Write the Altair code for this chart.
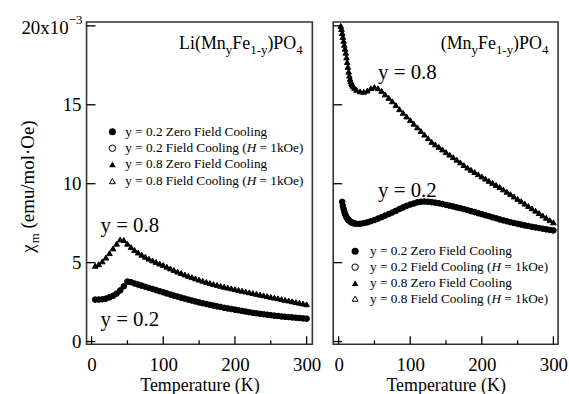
import altair as alt
import pandas as pd

FONT = "Liberation Serif"
INK = "black"

# ---------------- data (chi in units of 1e-3 emu/mol·Oe) ----------------
T_LEFT = [5, 10, 15, 20, 25, 30, 35, 40, 45, 50, 55, 60, 65, 70, 75, 80, 85, 90, 95, 100,
          105, 110, 115, 120, 125, 130, 135, 140, 145, 150, 155, 160, 165, 170, 175, 180, 185, 190, 195, 200,
          205, 210, 215, 220, 225, 230, 235, 240, 245, 250, 255, 260, 265, 270, 275, 280, 285, 290, 295, 300]

CHI_L_Y02_ZFC = [2.66, 2.66, 2.68, 2.72, 2.80, 2.90, 3.04, 3.24, 3.50, 3.80,
                 3.76, 3.68, 3.61, 3.54, 3.47, 3.40, 3.33, 3.26, 3.19, 3.12,
                 3.05, 2.98, 2.91, 2.85, 2.78, 2.72, 2.66, 2.60, 2.54, 2.48,
                 2.43, 2.38, 2.33, 2.28, 2.23, 2.19, 2.14, 2.10, 2.06, 2.02,
                 1.98, 1.94, 1.90, 1.86, 1.82, 1.79, 1.76, 1.73, 1.70, 1.67,
                 1.64, 1.62, 1.59, 1.57, 1.55, 1.53, 1.51, 1.49, 1.47, 1.45]
CHI_L_Y02_FC = CHI_L_Y02_ZFC  # FC and ZFC coincide

CHI_L_Y08_ZFC = [4.80, 4.90, 5.08, 5.32, 5.60, 5.90, 6.20, 6.47, 6.43, 6.20,
                 5.98, 5.80, 5.64, 5.50, 5.37, 5.25, 5.14, 5.04, 4.94, 4.85,
                 4.74, 4.63, 4.53, 4.43, 4.34, 4.25, 4.16, 4.08, 4.00, 3.92,
                 3.85, 3.78, 3.71, 3.65, 3.59, 3.53, 3.47, 3.42, 3.37, 3.32,
                 3.27, 3.22, 3.17, 3.12, 3.07, 3.02, 2.97, 2.93, 2.88, 2.83,
                 2.78, 2.74, 2.69, 2.64, 2.60, 2.55, 2.50, 2.46, 2.41, 2.36]
CHI_L_Y08_FC = CHI_L_Y08_ZFC

T_R_Y08 = [3, 4, 5, 6, 7, 8, 9, 10, 11, 12, 13, 14, 15, 16, 17, 18, 19, 20, 22, 25,
           30, 35, 40, 45, 50, 55, 60, 65, 70, 75, 80, 85, 90, 95, 100,
           105, 110, 115, 120, 125, 130, 135, 140, 145, 150, 155, 160, 165, 170, 175, 180, 185, 190, 195, 200,
           205, 210, 215, 220, 225, 230, 235, 240, 245, 250, 255, 260, 265, 270, 275, 280, 285, 290, 295, 300]
CHI_R_Y08_ZFC = [20.0, 19.8, 19.55, 19.3, 19.05, 18.8, 18.55, 18.3, 18.0, 17.7, 17.4, 17.1, 16.85, 16.65,
                 16.5, 16.38, 16.28, 16.2, 16.08, 15.95,
                 15.85, 15.82, 15.9, 16.05, 16.12, 16.05, 15.88, 15.66, 15.44, 15.22, 14.98, 14.72, 14.49,
                 14.26, 14.03, 13.8, 13.57, 13.34, 13.11, 12.88, 12.65, 12.49, 12.33, 12.17, 12.0, 11.84,
                 11.68, 11.52, 11.35, 11.18, 11.02, 10.88, 10.74, 10.6, 10.46, 10.32, 10.18, 10.05, 9.92,
                 9.79, 9.64, 9.49, 9.34, 9.19, 9.04, 8.89, 8.74, 8.59, 8.44, 8.29, 8.14, 7.99, 7.84, 7.69, 7.55]
CHI_R_Y08_FC = CHI_R_Y08_ZFC

T_R_Y02 = [5, 6, 7, 8, 9, 10, 11, 12, 13, 14, 15, 16, 17, 18, 19, 20, 22, 25,
           30, 35, 40, 45, 50, 55, 60, 65, 70, 75, 80, 85, 90, 95, 100,
           105, 110, 115, 120, 125, 130, 135, 140, 145, 150, 155, 160, 165, 170, 175, 180, 185, 190, 195, 200,
           205, 210, 215, 220, 225, 230, 235, 240, 245, 250, 255, 260, 265, 270, 275, 280, 285, 290, 295, 300]
CHI_R_Y02_ZFC = [8.85, 8.6, 8.4, 8.22, 8.08, 7.97, 7.88, 7.8, 7.74, 7.69, 7.65, 7.61, 7.58, 7.55, 7.53, 7.51,
                 7.48, 7.46,
                 7.46, 7.5, 7.55, 7.62, 7.7, 7.79, 7.88, 7.98, 8.08, 8.18, 8.28, 8.4, 8.5, 8.6, 8.68,
                 8.75, 8.82, 8.86, 8.87, 8.86, 8.83, 8.8, 8.76, 8.71, 8.66, 8.61, 8.56, 8.5, 8.45, 8.39,
                 8.33, 8.26, 8.2, 8.13, 8.07, 8.0, 7.94, 7.87, 7.81, 7.74, 7.68, 7.62, 7.56, 7.51, 7.46,
                 7.41, 7.36, 7.32, 7.27, 7.23, 7.19, 7.15, 7.11, 7.07, 7.04]
CHI_R_Y02_FC = CHI_R_Y02_ZFC

Y_TICKS = [0, 5, 10, 15, 20]
Y_LABELS = ["0", "5", "10", "15"]
Y_TOP_LABEL = "20x10"
Y_TOP_EXP = "\u22123"
X_MAJOR = [0, 100, 200, 300]
X_MINOR = [50, 150, 250]

LEGEND_ROWS = [
    ["y = 0.2 Zero Field Cooling"],
    ["y = 0.2 Field Cooling (", "H", " = 1kOe)"],
    ["y = 0.8 Zero Field Cooling"],
    ["y = 0.8 Field Cooling (", "H", " = 1kOe)"],
]
TITLE_LEFT = [("Li(Mn", 0), ("y", 1), ("Fe", 0), ("1-y", 1), (")PO", 0), ("4", 1)]
TITLE_RIGHT = [("(Mn", 0), ("y", 1), ("Fe", 0), ("1-y", 1), (")PO", 0), ("4", 1)]
YTITLE = [("\u03c7", 0), ("m", 1), (" (emu/mol\u00b7Oe)", 0)]
X_TITLE = "Temperature (K)"

# ---------------- layout helpers ----------------
H = 324
Y_DOMAIN = [-0.17, 20.25]
ONE = pd.DataFrame({"k": [0]})

WID = {' ': 250, '(': 333, ')': 333, '-': 333, '.': 250, '=': 564, '/': 278, '\u00b7': 250,
       'x': 500, 'y': 500, 'A': 722, 'C': 667, 'F': 556, 'H': 722, 'K': 722, 'L': 611, 'M': 889,
       'O': 722, 'P': 556, 'T': 611, 'Z': 611, 'a': 444, 'd': 500, 'e': 444, 'g': 500, 'i': 278,
       'k': 500, 'l': 278, 'm': 778, 'n': 500, 'o': 500, 'p': 500, 'r': 333, 't': 278, 'u': 500,
       '\u03c7': 500}


def tw(s, size):
    return sum(WID.get(c, 500) for c in s) / 1000.0 * size


def txt(s, x, y, size, italic=False, align="left", baseline="alphabetic", angle=None):
    kw = dict(text=s, font=FONT, fontSize=size, align=align, baseline=baseline, color=INK)
    if italic:
        kw["fontStyle"] = "italic"
    if angle is not None:
        kw["angle"] = angle
    return alt.Chart(ONE).mark_text(**kw).encode(x=alt.value(x), y=alt.value(y))


def run(pieces, x0, y0, big, small, sub_dy=5):
    out = []
    x = x0
    for s, sub in pieces:
        size = small if sub else big
        lead = len(s) - len(s.lstrip(" "))
        x += tw(" " * lead, size)
        core = s.strip(" ")
        out.append(txt(core, x, y0 + (sub_dy if sub else 0), size))
        x += tw(core, size) + tw(" " * (len(s) - lead - len(core)), size)
    return out


def legend(sx, tx, rows_y, size=13.3):
    out = []
    syms = [("circle", True, 50), ("circle", False, 42), ("triangle-up", True, 45), ("triangle-up", False, 36)]
    for (shape, filled, sz), yy, row in zip(syms, rows_y, LEGEND_ROWS):
        out.append(alt.Chart(ONE).mark_point(shape=shape, filled=filled, size=sz, color=INK, opacity=1,
                                             strokeWidth=1).encode(x=alt.value(sx), y=alt.value(yy)))
        x = tx
        for i, s in enumerate(row):
            italic = (i == 1)
            lead = len(s) - len(s.lstrip(" "))
            x += tw(" " * lead, size)
            core = s.strip(" ")
            out.append(txt(core, x, yy, size, italic=italic, baseline="middle"))
            x += tw(core, size)
    return out


def panel(width, xdom, curves, title, title_x, annos, leg_sx, leg_tx, leg_rows, left):
    xs = alt.Scale(domain=xdom, nice=False, zero=False)
    ys = alt.Scale(domain=Y_DOMAIN, nice=False, zero=False)
    xax = alt.Axis(values=X_MAJOR, ticks=False, domain=False, grid=False, labelFont=FONT,
                   labelFontSize=19, labelPadding=11, labelColor=INK, labelFlush=False,
                   title=X_TITLE, titleFont=FONT, titleFontSize=18, titleFontWeight="normal",
                   titleColor=INK, titlePadding=3)
    L = []
    L.append(alt.Chart(pd.DataFrame({"v": X_MAJOR})).mark_rule(color=INK, strokeWidth=1.3).encode(
        x=alt.X("v:Q", scale=xs, axis=xax), y=alt.value(H), y2=alt.value(H - 8)))
    L.append(alt.Chart(pd.DataFrame({"v": X_MINOR})).mark_rule(color=INK, strokeWidth=1.3).encode(
        x=alt.X("v:Q", scale=xs, axis=xax), y=alt.value(H), y2=alt.value(H - 4)))
    L.append(alt.Chart(pd.DataFrame({"v": Y_TICKS})).mark_rule(color=INK, strokeWidth=1.3).encode(
        y=alt.Y("v:Q", scale=ys, axis=None), x=alt.value(0), x2=alt.value(9)))
    for T, chi, shape, filled in curves:
        df = pd.DataFrame({"T": T, "chi": chi})
        L.append(alt.Chart(df).mark_point(shape=shape, filled=filled, color=INK, size=32, opacity=1,
                                          strokeWidth=1).encode(
            x=alt.X("T:Q", scale=xs, axis=xax), y=alt.Y("chi:Q", scale=ys, axis=None)))
    if left:
        L.append(alt.Chart(pd.DataFrame({"v": Y_TICKS[:-1], "label": Y_LABELS})).mark_text(
            font=FONT, fontSize=19, align="right", baseline="middle", color=INK).encode(
            y=alt.Y("v:Q", scale=ys, axis=None), x=alt.value(-5), text="label:N"))
        L.append(alt.Chart(pd.DataFrame({"v": [Y_TICKS[-1]], "label": [Y_TOP_LABEL]})).mark_text(
            font=FONT, fontSize=19, align="right", baseline="middle", color=INK, dy=2).encode(
            y=alt.Y("v:Q", scale=ys, axis=None), x=alt.value(-18), text="label:N"))
        L.append(alt.Chart(pd.DataFrame({"v": [Y_TICKS[-1]], "label": [Y_TOP_EXP]})).mark_text(
            font=FONT, fontSize=13, align="left", baseline="middle", color=INK, dy=-6).encode(
            y=alt.Y("v:Q", scale=ys, axis=None), x=alt.value(-18), text="label:N"))
        # rotated y title
        c = 0.0
        for s, sub in YTITLE:
            size = 13 if sub else 19
            lead = len(s) - len(s.lstrip(" "))
            c += tw(" " * lead, size)
            core = s.strip(" ")
            L.append(txt(core, -53 + (5 if sub else 0), 232 - c, size, angle=270))
            c += tw(core, size)
    L += run(title, title_x, 27, 18, 13)
    for s, ax, ay in annos:
        L.append(txt(s, ax, ay, 21))
    L += legend(leg_sx, leg_tx, leg_rows)
    return alt.layer(*L).properties(width=width, height=H)


left = panel(
    227, [-7, 308],
    [(T_LEFT, CHI_L_Y02_ZFC, "circle", True), (T_LEFT, CHI_L_Y02_FC, "circle", False),
     (T_LEFT, CHI_L_Y08_ZFC, "triangle-up", True), (T_LEFT, CHI_L_Y08_FC, "triangle-up", False)],
    TITLE_LEFT, 93, [("y = 0.8", 14, 211), ("y = 0.2", 14, 306)],
    26, 39, [110.5, 127, 143.3, 160], True)

right = panel(
    226, [-7.5, 306.5],
    [(T_R_Y02, CHI_R_Y02_ZFC, "circle", True), (T_R_Y02, CHI_R_Y02_FC, "circle", False),
     (T_R_Y08, CHI_R_Y08_ZFC, "triangle-up", True), (T_R_Y08, CHI_R_Y08_FC, "triangle-up", False)],
    TITLE_RIGHT, 108, [("y = 0.8", 45, 57), ("y = 0.2", 45, 176)],
    22, 37, [230.5, 246.5, 262.6, 278.2], False)

chart = alt.hconcat(left, right, spacing=21, bounds="flush").properties(
    padding={"left": 18, "top": 12, "right": 0, "bottom": 0}, background="white"
).configure_view(stroke="#333", strokeWidth=1.6)

chart.save("out.html", embed_options={"renderer": "svg", "actions": False})
